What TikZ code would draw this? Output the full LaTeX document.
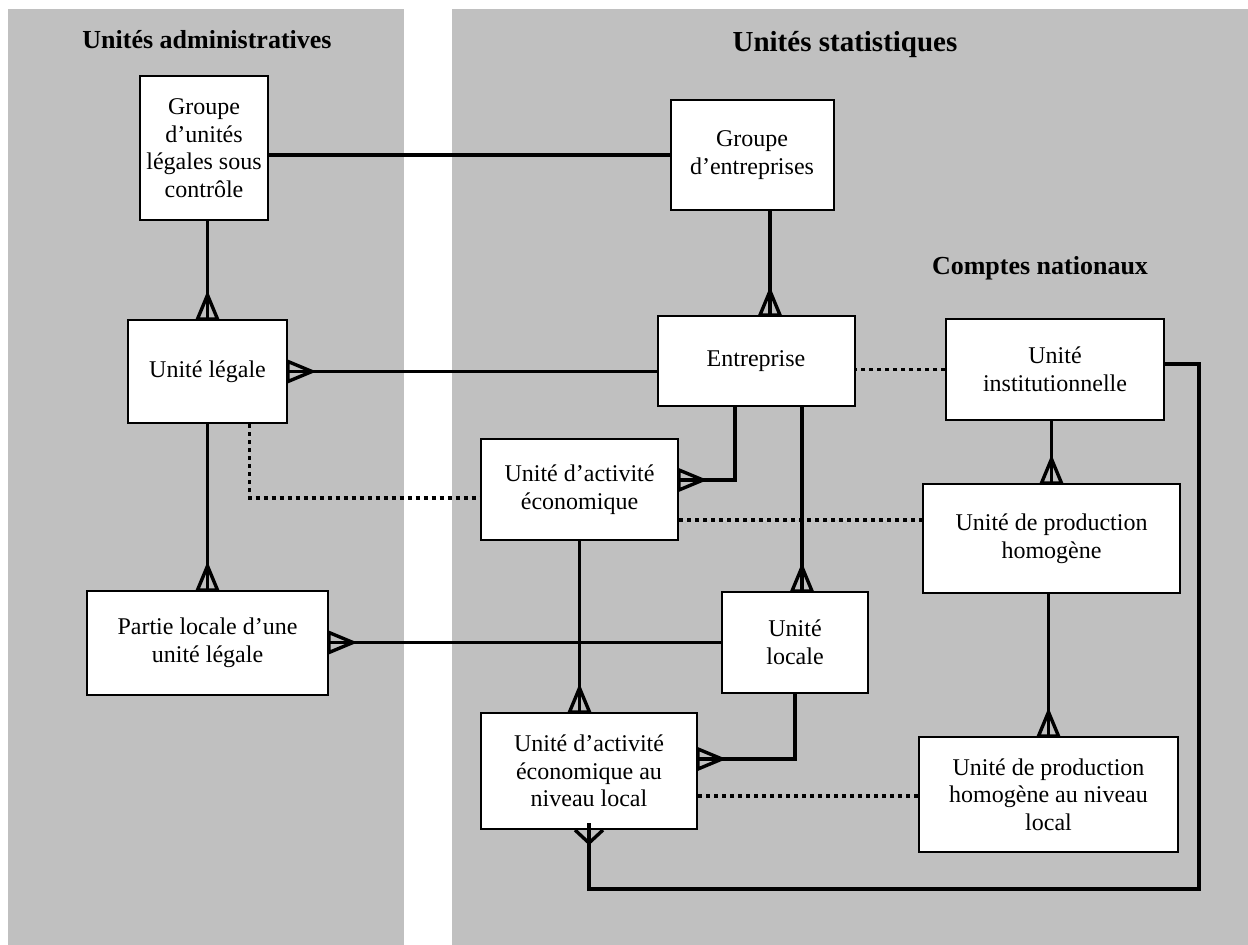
\documentclass[tikz,border=0pt]{standalone}
\usepackage{fontspec}
\setmainfont{Liberation Serif}
\usetikzlibrary{decorations.markings}
\definecolor{panel}{RGB}{192,192,192}

\begin{document}
\begin{tikzpicture}[x=1pt, y=-1pt,
  unit/.style = {shape=rectangle, draw, line width=2pt, fill=white,
    align=center, inner sep=0pt, font=\fontsize{24}{27.5}\selectfont},
  title/.style = {font=\bfseries\fontsize{26}{30}\selectfont},
  link/.style = {line width=3.4pt},
  weak/.style = {line width=3.4pt, dash pattern=on 4pt off 4pt},
  many/.style = {link, postaction={decorate, decoration={markings,
    mark=at position 1 with {\draw[line width=3.4pt, line join=miter]
      (-24pt,0pt) -- (0pt,10pt) -- (0pt,-10pt) -- cycle;}}}},
  fork/.style = {link, postaction={decorate, decoration={markings,
    mark=at position 1 with {\draw[line width=3.4pt, line join=miter]
      (-7pt,14pt) -- (-20pt,0pt) -- (-7pt,-14pt);}}}}]
  \useasboundingbox (0,0) rectangle (1248,945);
  \fill[panel] (8,9) rectangle (404,945);
  \fill[panel] (452,9) rectangle (1248,945);

  % titles
  \node[title] (adm) at (207,40) {Unités administratives};
  \node[title, font=\bfseries\fontsize{29}{32}\selectfont] (stat) at (845,45) {Unités statistiques};
  \node[title] (cn) at (1040,268) {Comptes nationaux};

  % units
  \node[unit, minimum width=128pt, minimum height=144pt] (gul) at (204,148)
    {Groupe\\d’unités\\légales sous\\contrôle};
  \node[unit, minimum width=163pt, minimum height=110pt] (ge) at (752,155)
    {Groupe\\d’entreprises};
  \node[unit, minimum width=159pt, minimum height=103pt] (ul) at (207.5,371.5)
    {Unité légale};
  \node[unit, minimum width=197pt, minimum height=90pt] (ent) at (756,361)
    {Entreprise};
  \node[unit, minimum width=218pt, minimum height=101pt] (ui) at (1055,369.5)
    {Unité\\institutionnelle};
  \node[unit, minimum width=197pt, minimum height=101pt] (uae) at (579.5,489.5)
    {Unité d’activité\\économique};
  \node[unit, minimum width=257pt, minimum height=109pt] (uph) at (1051.5,538.5)
    {Unité de production\\homogène};
  \node[unit, minimum width=241pt, minimum height=104pt] (pl) at (207.5,643)
    {Partie locale d’une\\unité légale};
  \node[unit, minimum width=146pt, minimum height=101pt] (ul2) at (795,642.5)
    {Unité\\locale};
  \node[unit, minimum width=216pt, minimum height=116pt] (uael) at (589,771)
    {Unité d’activité\\économique au\\niveau local};
  \node[unit, minimum width=259pt, minimum height=115pt] (uphl) at (1048.5,794.5)
    {Unité de production\\homogène au niveau\\local};
  \coordinate (loop) at (1199,889);

  % links
  \draw[link] (ge.west) -- (ge.west -| gul.east);
  \draw[many] (ul.north |- gul.south) -- (ul.north);
  \draw[many] ([xshift=18pt]ge.south) -- ([xshift=18pt]ge.south |- ent.north);
  \draw[many] (ul.east -| ent.west) -- (ul.east);
  \draw[weak] (ui.west) -- (ui.west -| ent.east);
  \draw[fork] ([yshift=5.5pt]ui.east) -| (loop) -| ([yshift=7pt]uael.south);
  \draw[many] (uph.north |- ui.south) -- (uph.north);
  \draw[many] ([xshift=-21pt]ent.south) |- ([yshift=9.5pt]uae.east);
  \draw[many] ([xshift=46pt]ent.south) -- ([xshift=46pt]ent.south |- ul2.north);
  \draw[many] (ul.south) -- (ul.south |- pl.north);
  \draw[weak] ([xshift=42pt]ul.south) |- ([yshift=-8.5pt]uae.west);
  \draw[weak] ([yshift=-30.5pt]uae.east) -- ([yshift=-30.5pt]uae.east -| uph.west);
  \draw[many] (uae.south) -- (uae.south |- uael.north);
  \draw[many] (ul2.west) -- (ul2.west -| pl.east);
  \draw[many] (ul2.south) |- ([yshift=12pt]uael.east);
  \draw[many] (uph.south -| uphl.north) -- (uphl.north);
  \draw[weak] ([yshift=-25pt]uael.east) -- ([yshift=-25pt]uael.east -| uphl.west);
\end{tikzpicture}
\end{document}
